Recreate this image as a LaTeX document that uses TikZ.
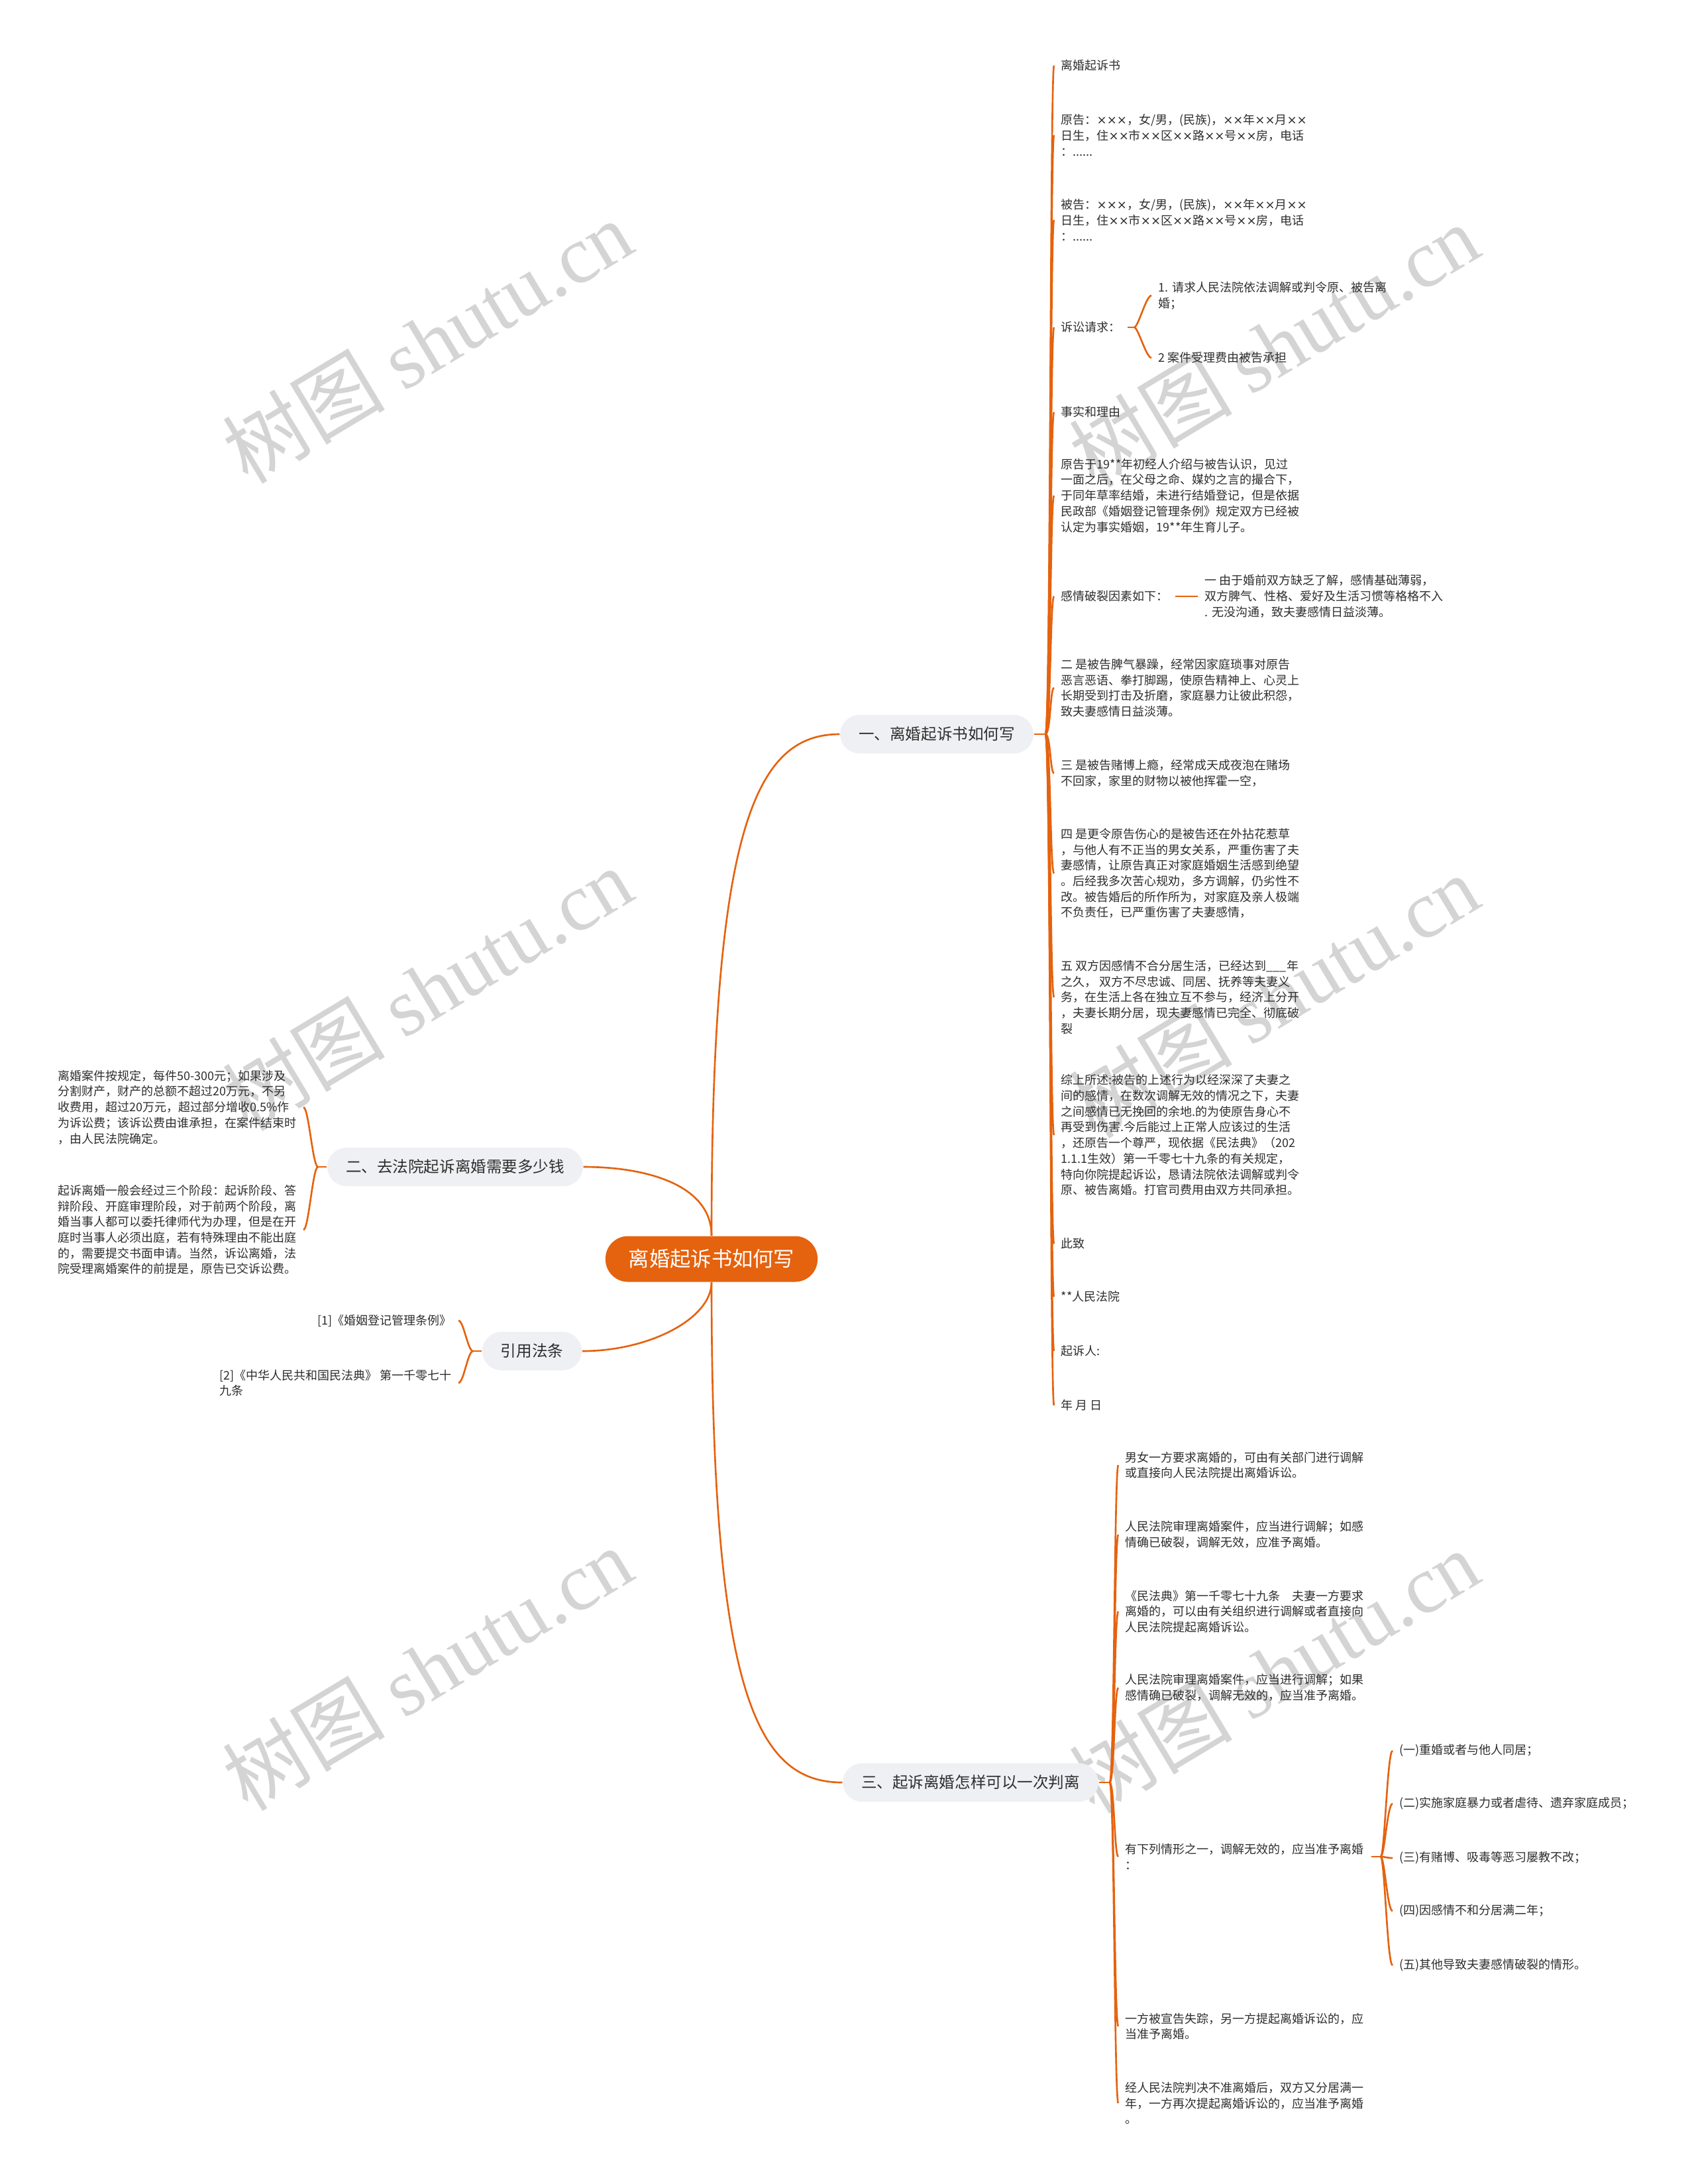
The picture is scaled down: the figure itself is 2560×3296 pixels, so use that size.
\documentclass[tikz,border=0pt]{standalone}
\usepackage{fontspec}
\setmainfont{Noto Sans CJK SC}
\newfontfamily\symfont{DejaVu Sans}
\newfontfamily\wmfont{Liberation Serif}
\usetikzlibrary{calc}
\definecolor{orng}{HTML}{E5620E}
\definecolor{pale}{HTML}{EEF0F3}
\definecolor{ink}{HTML}{2E2E2E}
\newcommand{\leafsize}{\fontsize{5.12}{6.74}\selectfont}
\newcommand{\xx}{{\symfont ×}}
\newcommand{\wm}{树图 {\wmfont shutu.cn}}

\tikzset{
  root/.style={fill=orng, text=white, rounded corners=0.34cm, minimum width=3.2cm,
    minimum height=0.69cm, font=\fontsize{8.9}{10}\selectfont},
  topic/.style={fill=pale, text=ink, rounded corners=0.29cm, minimum height=0.58cm,
    inner xsep=0.28cm, font=\fontsize{6.7}{8}\selectfont},
  leaf/.style={text=ink, align=left, inner xsep=0.1cm, inner ysep=0pt, font=\leafsize},
  link/.style={draw=orng, line width=0.75pt},
  wmark/.style={text=black!17, rotate=31, font=\fontsize{35}{35}\selectfont}
}

\begin{document}
\begin{tikzpicture}[x=0.01cm,y=-0.01cm]
  \useasboundingbox[fill=white] (0,0) rectangle (2560,3296);

  \foreach \x/\y in {645/515,1923/521,645/1492,1923/1503,645/2518,1923/2522}
    \node[wmark] at (\x,\y) {\wm};

  \node[root] (c) at (1074,1900) {离婚起诉书如何写};
  \node[topic] (b1) at (1414,1108) {一、离婚起诉书如何写};
  \node[topic] (b2) at (687,1761) {二、去法院起诉离婚需要多少钱};
  \node[topic] (b3) at (803,2039) {引用法条};
  \node[topic] (b4) at (1465,2690) {三、起诉离婚怎样可以一次判离};

  \draw[link] (c.north) .. controls (1074,1250) and (1140,1108) .. (b1.west);
  \draw[link] (c.north) .. controls (1074,1790) and (980,1761) .. (b2.east);
  \draw[link] (c.south) .. controls (1074,1990) and (980,2039) .. (b3.east);
  \draw[link] (c.south) .. controls (1074,2550) and (1140,2690) .. (b4.west);

  % 一
  \node[leaf, anchor=west] (a1) at (1591,99) {离婚起诉书};
  \node[leaf, anchor=west] (a2) at (1591,204) {原告：\xx{}\xx{}\xx{}，女/男，(民族)，\xx{}\xx{}年\xx{}\xx{}月\xx{}\xx{}\\日生，住\xx{}\xx{}市\xx{}\xx{}区\xx{}\xx{}路\xx{}\xx{}号\xx{}\xx{}房，电话\\：......};
  \node[leaf, anchor=west] (a3) at (1591,332) {被告：\xx{}\xx{}\xx{}，女/男，(民族)，\xx{}\xx{}年\xx{}\xx{}月\xx{}\xx{}\\日生，住\xx{}\xx{}市\xx{}\xx{}区\xx{}\xx{}路\xx{}\xx{}号\xx{}\xx{}房，电话\\：......};
  \node[leaf, anchor=west] (a4) at (1591,494) {诉讼请求：};
  \node[leaf, anchor=west] (a5) at (1591,622) {事实和理由};
  \node[leaf, anchor=west] (a6) at (1591,748) {原告于19**年初经人介绍与被告认识，见过\\一面之后，在父母之命、媒妁之言的撮合下，\\于同年草率结婚，未进行结婚登记，但是依据\\民政部《婚姻登记管理条例》规定双方已经被\\认定为事实婚姻，19**年生育儿子。};
  \node[leaf, anchor=west] (a7) at (1591,900) {感情破裂因素如下：};
  \node[leaf, anchor=west] (a8) at (1591,1038) {二 是被告脾气暴躁，经常因家庭琐事对原告\\恶言恶语、拳打脚踢，使原告精神上、心灵上\\长期受到打击及折磨，家庭暴力让彼此积怨，\\致夫妻感情日益淡薄。};
  \node[leaf, anchor=west] (a9) at (1591,1167) {三 是被告赌博上瘾，经常成天成夜泡在赌场\\不回家，家里的财物以被他挥霍一空，};
  \node[leaf, anchor=west] (a10) at (1591,1318) {四 是更令原告伤心的是被告还在外拈花惹草\\，与他人有不正当的男女关系，严重伤害了夫\\妻感情，让原告真正对家庭婚姻生活感到绝望\\。后经我多次苦心规劝，多方调解，仍劣性不\\改。被告婚后的所作所为，对家庭及亲人极端\\不负责任，已严重伤害了夫妻感情，};
  \node[leaf, anchor=west] (a11) at (1591,1505) {五 双方因感情不合分居生活，已经达到\_\_\_年\\之久， 双方不尽忠诚、同居、抚养等夫妻义\\务，在生活上各在独立互不参与，经济上分开\\，夫妻长期分居，现夫妻感情已完全、彻底破\\裂};
  \node[leaf, anchor=west] (a12) at (1591,1713) {综上所述:被告的上述行为以经深深了夫妻之\\间的感情，在数次调解无效的情况之下，夫妻\\之间感情已无挽回的余地.的为使原告身心不\\再受到伤害.今后能过上正常人应该过的生活\\，还原告一个尊严，现依据《民法典》（202\\1.1.1生效）第一千零七十九条的有关规定，\\特向你院提起诉讼，恳请法院依法调解或判令\\原、被告离婚。打官司费用由双方共同承担。};
  \node[leaf, anchor=west] (a13) at (1591,1877) {此致};
  \node[leaf, anchor=west] (a14) at (1591,1957) {**人民法院};
  \node[leaf, anchor=west] (a15) at (1591,2039) {起诉人:};
  \node[leaf, anchor=west] (a16) at (1591,2121) {年 月 日};

  \coordinate (o1) at (1578,1108);
  \draw[link] (b1.east) -- (o1);
  \foreach \i in {1,...,16}
    \draw[link] (o1) .. controls +(8,0) and +(-6,0) .. (a\i.west);

  \node[leaf, anchor=west] (a4a) at (1738,446) {1. 请求人民法院依法调解或判令原、被告离\\婚；};
  \node[leaf, anchor=west] (a4b) at (1738,540) {2 案件受理费由被告承担};
  \coordinate (o4) at (1712,494);
  \draw[link] (a4.east) -- (o4);
  \foreach \n in {a4a,a4b}
    \draw[link] (o4) .. controls +(6,0) and +(-8,0) .. (\n.west);

  \node[leaf, anchor=west] (a7a) at (1808,900) {一 由于婚前双方缺乏了解，感情基础薄弱，\\双方脾气、性格、爱好及生活习惯等格格不入\\. 无没沟通，致夫妻感情日益淡薄。};
  \draw[link] (a7.east) -- (a7a.west);

  % 二
  \node[leaf, anchor=east] (e1) at (458,1671) {离婚案件按规定，每件50-300元；如果涉及\\分割财产，财产的总额不超过20万元，不另\\收费用，超过20万元，超过部分增收0.5\%作\\为诉讼费；该诉讼费由谁承担，在案件结束时\\，由人民法院确定。};
  \node[leaf, anchor=east] (e2) at (458,1856) {起诉离婚一般会经过三个阶段：起诉阶段、答\\辩阶段、开庭审理阶段，对于前两个阶段，离\\婚当事人都可以委托律师代为办理，但是在开\\庭时当事人必须出庭，若有特殊理由不能出庭\\的，需要提交书面申请。当然，诉讼离婚，法\\院受理离婚案件的前提是，原告已交诉讼费。};
  \coordinate (o2) at (480,1761);
  \draw[link] (b2.west) -- (o2);
  \foreach \n in {e1,e2}
    \draw[link] (o2) .. controls +(-8,0) and +(8,0) .. (\n.east);

  % 引用法条
  \node[leaf, anchor=east] (f1) at (692,1993) {[1]《婚姻登记管理条例》};
  \node[leaf, anchor=east] (f2) at (692,2087) {[2]《中华人民共和国民法典》 第一千零七十\\九条};
  \coordinate (o3) at (714,2039);
  \draw[link] (b3.west) -- (o3);
  \foreach \n in {f1,f2}
    \draw[link] (o3) .. controls +(-8,0) and +(8,0) .. (\n.east);

  % 三
  \node[leaf, anchor=west] (d1) at (1688,2211) {男女一方要求离婚的，可由有关部门进行调解\\或直接向人民法院提出离婚诉讼。};
  \node[leaf, anchor=west] (d2) at (1688,2316) {人民法院审理离婚案件，应当进行调解；如感\\情确已破裂，调解无效，应准予离婚。};
  \node[leaf, anchor=west] (d3) at (1688,2432) {《民法典》第一千零七十九条　夫妻一方要求\\离婚的，可以由有关组织进行调解或者直接向\\人民法院提起离婚诉讼。};
  \node[leaf, anchor=west] (d4) at (1688,2547) {人民法院审理离婚案件，应当进行调解；如果\\感情确已破裂，调解无效的，应当准予离婚。};
  \node[leaf, anchor=west] (d5) at (1688,2802) {有下列情形之一，调解无效的，应当准予离婚\\：};
  \node[leaf, anchor=west] (d6) at (1688,3058) {一方被宣告失踪，另一方提起离婚诉讼的，应\\当准予离婚。};
  \node[leaf, anchor=west] (d7) at (1688,3174) {经人民法院判决不准离婚后，双方又分居满一\\年，一方再次提起离婚诉讼的，应当准予离婚\\。};

  \coordinate (o5) at (1675,2690);
  \draw[link] (b4.east) -- (o5);
  \foreach \i in {1,...,7}
    \draw[link] (o5) .. controls +(7,0) and +(-6,0) .. (d\i.west);

  \node[leaf, anchor=west] (g1) at (2102,2642) {(一)重婚或者与他人同居；};
  \node[leaf, anchor=west] (g2) at (2102,2722) {(二)实施家庭暴力或者虐待、遗弃家庭成员；};
  \node[leaf, anchor=west] (g3) at (2102,2804) {(三)有赌博、吸毒等恶习屡教不改；};
  \node[leaf, anchor=west] (g4) at (2102,2884) {(四)因感情不和分居满二年；};
  \node[leaf, anchor=west] (g5) at (2102,2966) {(五)其他导致夫妻感情破裂的情形。};

  \coordinate (o6) at (2084,2802);
  \draw[link] (d5.east) -- (o6);
  \foreach \i in {1,...,5}
    \draw[link] (o6) .. controls +(6,0) and +(-8,0) .. (g\i.west);
\end{tikzpicture}
\end{document}
